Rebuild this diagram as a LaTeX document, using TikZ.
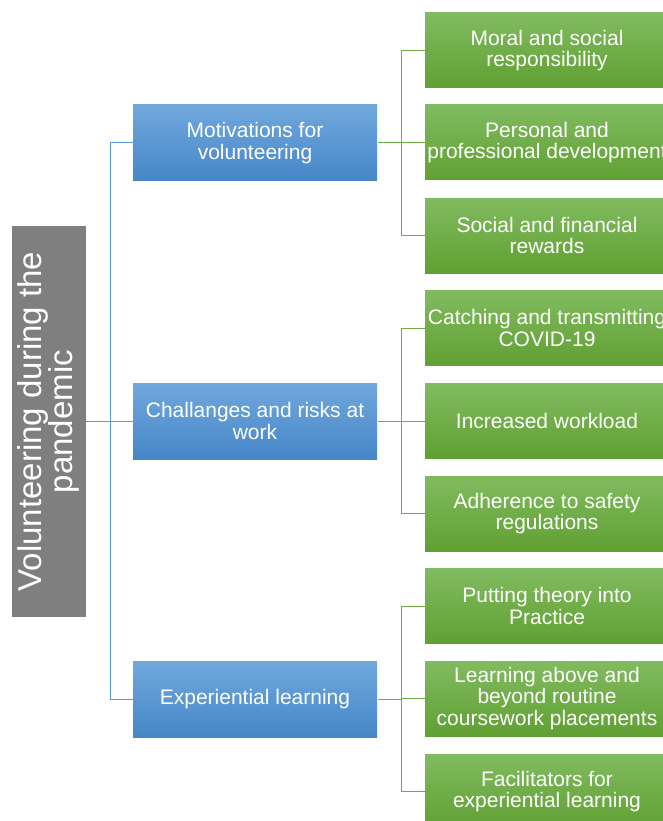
\documentclass[tikz,border=0pt]{standalone}
\usepackage{fontspec}
\setmainfont{Liberation Sans}
\usetikzlibrary{calc,positioning}

\definecolor{rootgray}{HTML}{7F7F7F}
\definecolor{bluetop}{HTML}{71A8DE}
\definecolor{bluebot}{HTML}{4686C7}
\definecolor{greentop}{HTML}{81BB60}
\definecolor{greenbot}{HTML}{60A032}
\definecolor{blueline}{HTML}{5B9BD5}
\definecolor{greenline}{HTML}{70AD47}

\begin{document}
\begin{tikzpicture}[x=1pt,y=-1pt,line width=1pt,
  rootbox/.style={fill=rootgray,text=white,rotate=90,minimum width=391pt,minimum height=74pt,
    inner sep=0pt,align=center,font=\fontsize{33}{31}\selectfont},
  topicbox/.style={top color=bluetop,bottom color=bluebot,text=white,minimum width=244pt,
    minimum height=76pt,inner sep=0pt,align=center,font=\fontsize{21}{21.5}\selectfont},
  itembox/.style={top color=greentop,bottom color=greenbot,text=white,minimum width=244pt,
    minimum height=75pt,inner sep=0pt,align=center,font=\fontsize{21}{21.5}\selectfont},
  rootline/.style={draw=blueline},
  itemline/.style={draw=greenline}]
\useasboundingbox (0,0) rectangle (663,821);
%root
\node[rootbox] (root) at (48.5,421.5) {Volunteering during the\\pandemic};
%topics
\node[topicbox] (MOT) at (255,143) {Motivations for\\volunteering};
\node[topicbox] (RISK) at (255,421) {Challanges and risks at\\work};
\node[topicbox] (EXP) at (255,699) {Experiential learning};
%items of the first topic
\node[itembox] (MORAL) at (547,50.5) {Moral and social\\responsibility};
\node[itembox] (PERS) at (547,142.5) {Personal and\\professional development};
\node[itembox] (REWARD) at (547,235.5) {Social and financial\\rewards};
%items of the second topic
\node[itembox] (COVID) at (547,328) {Catching and transmitting\\COVID-19};
\node[itembox] (WORK) at (547,421) {Increased workload};
\node[itembox] (SAFETY) at (547,513.5) {Adherence to safety\\regulations};
%items of the third topic
\node[itembox] (THEORY) at (547,606) {Putting theory into\\Practice};
\node[itembox] (BEYOND) at (547,698.5) {Learning above and\\beyond routine\\coursework placements};
\node[itembox] (FACIL) at (547,791.5) {Facilitators for\\experiential learning};
%the forks
\coordinate (ROOTFORK) at ($(root.south)+(24,0)$);
\coordinate (MOTFORK) at ($(MOT.east)+(24,0)$);
\coordinate (RISKFORK) at ($(RISK.east)+(24,0)$);
\coordinate (EXPFORK) at ($(EXP.east)+(24,0)$);
%root to topics
\draw[rootline] (root.south) -- (ROOTFORK);
\draw[rootline] (ROOTFORK |- MOT.west) -- (ROOTFORK |- EXP.west);
\draw[rootline] (ROOTFORK |- MOT.west) -- (MOT.west);
\draw[rootline] (ROOTFORK |- RISK.west) -- (RISK.west);
\draw[rootline] (ROOTFORK |- EXP.west) -- (EXP.west);
%topics to items
\draw[itemline] (MOT.east) -- (MOTFORK);
\draw[itemline] (MOTFORK |- MORAL.west) -- (MOTFORK |- REWARD.west);
\draw[itemline] (MOTFORK |- MORAL.west) -- (MORAL.west);
\draw[itemline] (MOTFORK |- PERS.west) -- (PERS.west);
\draw[itemline] (MOTFORK |- REWARD.west) -- (REWARD.west);
\draw[itemline] (RISK.east) -- (RISKFORK);
\draw[itemline] (RISKFORK |- COVID.west) -- (RISKFORK |- SAFETY.west);
\draw[itemline] (RISKFORK |- COVID.west) -- (COVID.west);
\draw[itemline] (RISKFORK |- WORK.west) -- (WORK.west);
\draw[itemline] (RISKFORK |- SAFETY.west) -- (SAFETY.west);
\draw[itemline] (EXP.east) -- (EXPFORK);
\draw[itemline] (EXPFORK |- THEORY.west) -- (EXPFORK |- FACIL.west);
\draw[itemline] (EXPFORK |- THEORY.west) -- (THEORY.west);
\draw[itemline] (EXPFORK |- BEYOND.west) -- (BEYOND.west);
\draw[itemline] (EXPFORK |- FACIL.west) -- (FACIL.west);
\end{tikzpicture}
\end{document}
